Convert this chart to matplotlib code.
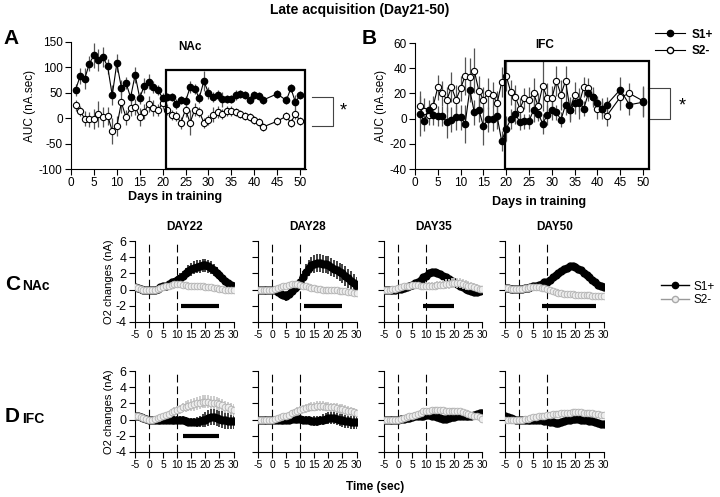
import matplotlib
matplotlib.use("Agg")
import matplotlib.pyplot as plt
from matplotlib.lines import Line2D
from matplotlib.patches import Rectangle
import numpy as np

plt.rcParams['font.family'] = ['Liberation Sans', 'DejaVu Sans']
plt.rcParams['axes.unicode_minus'] = False

# ---- panel A / B : AUC per training day ----
days_a = list(range(1, 43)) + [45, 47, 48, 49, 50]
nac_s1 = [56, 83, 78, 107, 124, 115, 120, 102, 45, 108,
          60, 70, 41, 85, 40, 64, 72, 62, 55, 40,
          41, 41, 28, 35, 33, 61, 58, 40, 73, 50,
          41, 45, 37, 37, 37, 45, 48, 45, 36, 45,
          43, 36, 48, 35, 59, 31, 46]
nac_s1_err = [12, 15, 20, 15, 25, 22, 20, 15, 20, 18,
              15, 12, 10, 15, 12, 15, 15, 12, 10, 10,
              8, 8, 10, 8, 10, 12, 10, 10, 20, 12,
              10, 10, 15, 8, 8, 10, 8, 8, 8, 8,
              8, 8, 8, 8, 8, 15, 8]
nac_s2 = [25, 14, -1, -2, -1, 8, 2, 5, -25, -16,
          31, 2, 20, 22, 3, 13, 28, 20, 16, 30,
          17, 7, 5, -9, 17, -9, 17, 13, -9, -4,
          7, 12, 9, 14, 14, 12, 9, 4, 2, -4,
          -8, -17, -6, 4, -9, 9, -6]
nac_s2_err = [10, 10, 15, 15, 20, 25, 20, 18, 25, 20,
              20, 15, 15, 15, 18, 15, 15, 15, 12, 12,
              10, 10, 10, 12, 15, 25, 12, 10, 10, 10,
              15, 12, 10, 10, 10, 8, 8, 8, 8, 8,
              8, 8, 8, 8, 8, 10, 8]

days_b = list(range(1, 43)) + [45, 47, 50]
ifc_s1 = [4, -2, 7, 3, 2, 2, -3, -1, 1, 1,
          -4, 23, 5, 7, -6, -0.5, 0, 2, -18, -8,
          -0.5, 4, -3, -2, -2, 7, 4, -4, 3, 7,
          5, -1, 11, 7, 12, 13, 8, 20, 17, 12,
          8, 11, 23, 11, 13]
ifc_s1_err = [18, 8, 8, 8, 8, 8, 12, 10, 10, 10,
              15, 10, 10, 10, 15, 10, 10, 10, 8, 10,
              8, 8, 6, 6, 6, 10, 6, 8, 8, 8,
              6, 6, 8, 8, 8, 8, 6, 6, 6, 6,
              6, 6, 10, 8, 12]
ifc_s2 = [10, 6, 3, 10, 25, 20, 15, 25, 15, 24,
          34, 33, 38, 22, 15, 20, 19, 12, 29, 34,
          21, 17, 8, 16, 15, 20, 10, 26, 16, 16,
          30, 19, 30, 7, 19, 12, 25, 24, 17, 8,
          8, 2, 17, 20, 14]
ifc_s2_err = [8, 10, 8, 8, 10, 10, 10, 12, 12, 10,
              15, 15, 18, 12, 10, 12, 10, 10, 12, 12,
              10, 10, 8, 8, 10, 12, 10, 20, 12, 10,
              12, 12, 12, 10, 10, 12, 8, 8, 8, 8,
              8, 8, 10, 8, 12]

# ---- panels C / D : O2 time courses (t = -5 .. 30 s) ----
t = list(range(-5, 31))
day_titles = ['DAY22', 'DAY28', 'DAY35', 'DAY50']

nac_tc_s1 = [
    [0.3, 0.2, 0.1, 0.0, -0.1, -0.1, -0.1, 0.0, 0.1, 0.3, 0.4, 0.5, 0.7, 0.9, 1.0,
     1.2, 1.4, 1.7, 2.0, 2.3, 2.5, 2.7, 2.8, 2.9, 3.0, 3.0, 2.9, 2.7, 2.4, 2.1,
     1.8, 1.4, 1.1, 0.8, 0.6, 0.5],
    [-0.1, -0.1, 0.0, 0.0, 0.0, 0.0, -0.1, -0.3, -0.5, -0.7, -0.8, -0.6, -0.2, 0.2, 0.5,
     0.9, 1.5, 2.2, 2.7, 3.0, 3.2, 3.3, 3.3, 3.2, 3.1, 3.0, 2.8, 2.6, 2.4, 2.2,
     2.0, 1.7, 1.4, 1.1, 0.8, 0.5],
    [0.0, 0.0, 0.0, 0.0, 0.0, 0.05, 0.1, 0.2, 0.3, 0.4, 0.6, 0.8, 1.0, 1.2, 1.5,
     1.7, 2.0, 2.2, 2.2, 2.1, 1.9, 1.7, 1.5, 1.3, 1.1, 0.9, 0.7, 0.5, 0.3, 0.1,
     -0.1, -0.2, -0.3, -0.3, -0.2, -0.1],
    [0.2, 0.2, 0.1, 0.1, 0.1, 0.1, 0.1, 0.2, 0.2, 0.3, 0.4, 0.5, 0.6, 0.7, 0.9,
     1.0, 1.2, 1.5, 1.8, 2.1, 2.3, 2.5, 2.7, 2.9, 2.9, 2.8, 2.6, 2.4, 2.1, 1.8,
     1.5, 1.2, 0.9, 0.6, 0.4, 0.3],
]
nac_tc_s1_err = [
    [0.1, 0.1, 0.1, 0.1, 0.1, 0.1, 0.1, 0.1, 0.15, 0.2, 0.2, 0.25, 0.3, 0.35, 0.4,
     0.5, 0.6, 0.6, 0.7, 0.7, 0.8, 0.8, 0.8, 0.8, 0.8, 0.8, 0.8, 0.8, 0.7, 0.7,
     0.6, 0.5, 0.4, 0.3, 0.2, 0.2],
    [0.1, 0.1, 0.1, 0.1, 0.1, 0.1, 0.2, 0.3, 0.4, 0.5, 0.6, 0.6, 0.5, 0.5, 0.6,
     0.7, 0.8, 0.9, 1.0, 1.0, 1.1, 1.1, 1.1, 1.1, 1.1, 1.1, 1.1, 1.1, 1.1, 1.1,
     1.2, 1.2, 1.2, 1.2, 1.1, 1.0],
    [0.1, 0.1, 0.1, 0.1, 0.1, 0.1, 0.1, 0.15, 0.2, 0.2, 0.25, 0.3, 0.3, 0.35, 0.4,
     0.4, 0.4, 0.4, 0.4, 0.4, 0.4, 0.4, 0.4, 0.4, 0.4, 0.4, 0.35, 0.35, 0.3, 0.3,
     0.3, 0.3, 0.3, 0.25, 0.2, 0.2],
    [0.1, 0.1, 0.1, 0.1, 0.1, 0.1, 0.1, 0.1, 0.1, 0.15, 0.15, 0.2, 0.2, 0.2, 0.2,
     0.25, 0.25, 0.3, 0.3, 0.3, 0.3, 0.3, 0.3, 0.3, 0.3, 0.3, 0.3, 0.3, 0.3, 0.3,
     0.25, 0.25, 0.2, 0.2, 0.2, 0.2],
]
nac_tc_s2 = [
    [0.3, 0.2, 0.1, 0.0, -0.1, -0.1, -0.1, 0.0, 0.1, 0.2, 0.3, 0.4, 0.5, 0.6, 0.7,
     0.7, 0.7, 0.6, 0.6, 0.5, 0.5, 0.5, 0.4, 0.4, 0.4, 0.3, 0.3, 0.3, 0.2, 0.2,
     0.1, 0.1, 0.0, 0.0, -0.1, -0.1],
    [0.0, 0.0, 0.0, 0.0, 0.0, 0.0, 0.1, 0.2, 0.3, 0.4, 0.5, 0.6, 0.7, 0.7, 0.7,
     0.6, 0.5, 0.4, 0.3, 0.2, 0.2, 0.1, 0.1, 0.0, 0.0, 0.0, -0.1, -0.1, -0.1, -0.2,
     -0.2, -0.2, -0.3, -0.3, -0.4, -0.4],
    [0.0, 0.0, 0.0, 0.1, 0.1, 0.2, 0.3, 0.4, 0.5, 0.5, 0.6, 0.6, 0.6, 0.5, 0.5,
     0.5, 0.5, 0.5, 0.5, 0.6, 0.6, 0.6, 0.7, 0.7, 0.8, 0.8, 0.8, 0.8, 0.7, 0.6,
     0.5, 0.4, 0.3, 0.2, 0.1, 0.1],
    [0.2, 0.2, 0.1, 0.1, 0.1, 0.1, 0.1, 0.2, 0.2, 0.3, 0.3, 0.3, 0.3, 0.2, 0.2,
     0.1, -0.1, -0.2, -0.3, -0.4, -0.4, -0.5, -0.5, -0.6, -0.6, -0.7, -0.7, -0.7, -0.7, -0.7,
     -0.7, -0.8, -0.8, -0.8, -0.8, -0.8],
]
nac_tc_s2_err = [
    [0.1, 0.1, 0.1, 0.1, 0.1, 0.1, 0.1, 0.1, 0.1, 0.1, 0.15, 0.2, 0.2, 0.25, 0.3,
     0.3, 0.3, 0.3, 0.3, 0.3, 0.3, 0.3, 0.3, 0.3, 0.3, 0.3, 0.3, 0.3, 0.3, 0.3,
     0.3, 0.3, 0.3, 0.3, 0.3, 0.3],
    [0.1, 0.1, 0.1, 0.1, 0.1, 0.1, 0.1, 0.15, 0.2, 0.2, 0.25, 0.3, 0.3, 0.3, 0.3,
     0.3, 0.3, 0.3, 0.3, 0.3, 0.3, 0.3, 0.3, 0.3, 0.3, 0.3, 0.3, 0.3, 0.3, 0.3,
     0.3, 0.3, 0.3, 0.3, 0.3, 0.3],
    [0.1, 0.1, 0.1, 0.1, 0.1, 0.1, 0.15, 0.2, 0.2, 0.25, 0.3, 0.3, 0.3, 0.3, 0.35,
     0.4, 0.4, 0.45, 0.5, 0.5, 0.5, 0.55, 0.6, 0.6, 0.6, 0.6, 0.6, 0.6, 0.6, 0.6,
     0.55, 0.5, 0.5, 0.45, 0.4, 0.4],
    [0.1, 0.1, 0.1, 0.1, 0.1, 0.1, 0.1, 0.1, 0.1, 0.1, 0.1, 0.1, 0.1, 0.15, 0.15,
     0.15, 0.15, 0.15, 0.15, 0.15, 0.15, 0.15, 0.15, 0.15, 0.15, 0.15, 0.15, 0.15, 0.15, 0.15,
     0.15, 0.15, 0.15, 0.15, 0.15, 0.15],
]
nac_sig = [(11.5, 25), (11.5, 25), (9, 20), (8, 27.5)]

ifc_tc_s1 = [
    [0.5, 0.4, 0.3, 0.2, 0.1, 0.0, 0.0, -0.1, -0.1, -0.1, -0.1, -0.1, -0.1, 0.0, 0.0,
     0.0, -0.1, -0.1, -0.2, -0.3, -0.3, -0.3, -0.3, -0.2, -0.1, 0.0, 0.2, 0.3, 0.3, 0.2,
     0.1, 0.0, -0.1, -0.2, -0.2, -0.2],
    [0.0, 0.0, 0.0, 0.0, 0.0, 0.0, 0.0, 0.0, 0.0, 0.0, 0.0, 0.0, 0.1, 0.1, 0.1,
     0.1, 0.0, -0.1, -0.1, -0.2, -0.2, -0.2, -0.1, 0.0, 0.1, 0.2, 0.2, 0.2, 0.1, 0.0,
     -0.1, -0.2, -0.2, -0.3, -0.3, -0.3],
    [0.0, 0.0, 0.0, 0.0, 0.0, 0.0, 0.1, 0.1, 0.2, 0.2, 0.3, 0.4, 0.4, 0.5, 0.5,
     0.6, 0.6, 0.5, 0.4, 0.3, 0.2, 0.1, 0.1, 0.2, 0.3, 0.3, 0.4, 0.4, 0.4, 0.4,
     0.5, 0.5, 0.6, 0.7, 0.8, 0.8],
    [0.4, 0.3, 0.2, 0.1, 0.0, 0.0, 0.0, 0.0, 0.0, 0.0, 0.0, -0.1, -0.1, -0.1, -0.2,
     -0.2, -0.3, -0.3, -0.4, -0.4, -0.3, -0.2, -0.1, 0.0, 0.1, 0.1, 0.1, 0.0, -0.1, -0.1,
     -0.2, -0.2, -0.3, -0.4, -0.5, -0.5],
]
ifc_tc_s1_err = [
    [0.1, 0.1, 0.1, 0.1, 0.1, 0.1, 0.2, 0.3, 0.4, 0.5, 0.5, 0.5, 0.5, 0.5, 0.5,
     0.5, 0.5, 0.5, 0.5, 0.5, 0.5, 0.5, 0.6, 0.7, 0.8, 0.9, 1.0, 1.0, 1.0, 1.0,
     1.0, 1.0, 1.0, 1.0, 1.0, 1.0],
    [0.1, 0.1, 0.1, 0.1, 0.1, 0.1, 0.2, 0.3, 0.4, 0.4, 0.5, 0.5, 0.5, 0.5, 0.5,
     0.5, 0.5, 0.5, 0.5, 0.5, 0.6, 0.6, 0.6, 0.7, 0.7, 0.7, 0.8, 0.8, 0.8, 0.8,
     0.8, 0.8, 0.8, 0.8, 0.8, 0.8],
    [0.1, 0.1, 0.1, 0.1, 0.1, 0.1, 0.1, 0.15, 0.15, 0.2, 0.2, 0.2, 0.2, 0.2, 0.2,
     0.2, 0.2, 0.2, 0.2, 0.2, 0.2, 0.2, 0.2, 0.2, 0.2, 0.2, 0.2, 0.2, 0.2, 0.2,
     0.2, 0.2, 0.2, 0.2, 0.2, 0.2],
    [0.1, 0.1, 0.1, 0.1, 0.1, 0.1, 0.1, 0.15, 0.15, 0.2, 0.2, 0.2, 0.25, 0.25, 0.3,
     0.3, 0.3, 0.3, 0.3, 0.3, 0.3, 0.3, 0.3, 0.3, 0.25, 0.25, 0.2, 0.2, 0.2, 0.2,
     0.2, 0.2, 0.2, 0.2, 0.2, 0.2],
]
ifc_tc_s2 = [
    [0.5, 0.4, 0.3, 0.2, 0.1, 0.0, 0.0, 0.1, 0.2, 0.3, 0.4, 0.6, 0.7, 0.9, 1.0,
     1.2, 1.3, 1.5, 1.6, 1.7, 1.8, 1.9, 2.0, 2.1, 2.2, 2.2, 2.2, 2.1, 2.1, 2.0,
     1.9, 1.8, 1.6, 1.5, 1.3, 1.2],
    [0.0, 0.0, 0.0, 0.0, 0.0, 0.0, 0.1, 0.2, 0.3, 0.4, 0.5, 0.6, 0.8, 0.9, 1.1,
     1.2, 1.3, 1.4, 1.5, 1.6, 1.6, 1.7, 1.7, 1.7, 1.6, 1.6, 1.5, 1.5, 1.4, 1.3,
     1.3, 1.2, 1.1, 1.0, 0.9, 0.8],
    [0.0, 0.0, 0.0, 0.0, 0.0, 0.0, 0.1, 0.2, 0.3, 0.4, 0.5, 0.6, 0.7, 0.8, 1.0,
     1.1, 1.1, 1.2, 1.2, 1.2, 1.2, 1.2, 1.1, 1.1, 1.1, 1.1, 1.0, 1.0, 0.9, 0.8,
     0.7, 0.6, 0.5, 0.4, 0.3, 0.1],
    [0.0, 0.0, 0.0, 0.0, 0.0, 0.0, 0.0, 0.1, 0.1, 0.2, 0.3, 0.3, 0.4, 0.5, 0.5,
     0.6, 0.6, 0.7, 0.7, 0.7, 0.8, 0.8, 0.8, 0.8, 0.9, 0.9, 0.9, 0.9, 0.8, 0.8,
     0.8, 0.8, 0.7, 0.7, 0.6, 0.6],
]
ifc_tc_s2_err = [
    [0.1, 0.1, 0.1, 0.1, 0.1, 0.1, 0.1, 0.15, 0.2, 0.25, 0.3, 0.35, 0.4, 0.45, 0.5,
     0.5, 0.55, 0.6, 0.65, 0.7, 0.75, 0.8, 0.8, 0.8, 0.8, 0.8, 0.8, 0.8, 0.8, 0.8,
     0.8, 0.8, 0.75, 0.7, 0.7, 0.7],
    [0.1, 0.1, 0.1, 0.1, 0.1, 0.1, 0.1, 0.15, 0.2, 0.2, 0.25, 0.3, 0.35, 0.4, 0.45,
     0.5, 0.5, 0.55, 0.6, 0.6, 0.6, 0.6, 0.6, 0.6, 0.6, 0.6, 0.6, 0.6, 0.6, 0.6,
     0.6, 0.6, 0.6, 0.55, 0.5, 0.5],
    [0.1, 0.1, 0.1, 0.1, 0.1, 0.1, 0.1, 0.1, 0.15, 0.15, 0.2, 0.2, 0.25, 0.25, 0.3,
     0.3, 0.3, 0.3, 0.3, 0.3, 0.3, 0.3, 0.3, 0.3, 0.3, 0.3, 0.3, 0.3, 0.3, 0.3,
     0.3, 0.3, 0.3, 0.3, 0.3, 0.3],
    [0.1, 0.1, 0.1, 0.1, 0.1, 0.1, 0.1, 0.1, 0.15, 0.15, 0.2, 0.2, 0.2, 0.25, 0.25,
     0.3, 0.3, 0.3, 0.3, 0.3, 0.3, 0.3, 0.3, 0.3, 0.3, 0.3, 0.3, 0.3, 0.3, 0.3,
     0.3, 0.3, 0.3, 0.3, 0.3, 0.3],
]
ifc_sig = [(12, 25), None, None, None]

W, H = 720, 497
fig = plt.figure(figsize=(W / 100, H / 100), dpi=100)


def px_axes(left, top, right, bottom):
    # pixel box -> figure axes
    return fig.add_axes([left / W, 1 - bottom / H, (right - left) / W, (bottom - top) / H])


def style_axes(ax, fs):
    for s in ['top', 'right']:
        ax.spines[s].set_visible(False)
    for s in ['left', 'bottom']:
        ax.spines[s].set_linewidth(0.8)
    ax.tick_params(direction='out', length=4, width=0.8, labelsize=fs, pad=2)


def auc_panel(ax, days, s1, s1e, s2, s2e, ylim, yticks, box):
    ax.errorbar(days, s1, yerr=s1e, fmt='none', ecolor='#555555', elinewidth=0.9, zorder=2)
    ax.errorbar(days, s2, yerr=s2e, fmt='none', ecolor='#555555', elinewidth=0.9, zorder=2)
    ax.plot(days, s1, '-o', color='black', lw=0.8, ms=4.5, zorder=4)
    ax.plot(days, s2, '-o', color='black', mfc='white', mec='black', mew=0.8, lw=0.8, ms=4.5, zorder=3)
    ax.add_patch(Rectangle((box[0], ylim[0]), box[1] - box[0], box[2] - ylim[0],
                           fill=False, lw=1.6, ec='black', zorder=5, clip_on=False))
    ax.set_xlim(0, 51.3)
    ax.set_ylim(*ylim)
    ax.set_xticks(range(0, 51, 5))
    ax.set_yticks(yticks)
    style_axes(ax, 8.5)
    ax.set_ylabel('AUC (nA.sec)', fontsize=8.5, labelpad=2)


axA = px_axes(71, 42, 306, 169)
auc_panel(axA, days_a, nac_s1, nac_s1_err, nac_s2, nac_s2_err, (-100, 150),
          range(-100, 151, 50), (20.8, 51.1, 94))
axA.plot([52.6, 57.2, 57.2, 52.6], [42, 42, -15, -15], color='#444444', lw=0.8, clip_on=False)
axA.text(59.5, 14, '*', fontsize=13, ha='center', va='center')

axB = px_axes(415, 43, 649, 169)
auc_panel(axB, days_b, ifc_s1, ifc_s1_err, ifc_s2, ifc_s2_err, (-40, 60),
          range(-40, 61, 20), (19.7, 51.3, 46))
axB.plot([51.0, 55.8, 55.8, 51.0], [24, 24, 0, 0], color='#444444', lw=0.8, clip_on=False)
axB.text(58.5, 10, '*', fontsize=13, ha='center', va='center')

fig.text(0.5, 1 - 10 / H, 'Late acquisition (Day21-50)', ha='center', va='center',
         fontsize=10, fontweight='bold')
fig.text(3 / W, 1 - 38 / H, 'A', fontsize=15, fontweight='bold', va='center')
fig.text(362 / W, 1 - 38 / H, 'B', fontsize=15, fontweight='bold', va='center')
fig.text(190 / W, 1 - 47 / H, 'NAc', fontsize=8.5, fontweight='bold', ha='center', va='center')
fig.text(545 / W, 1 - 45 / H, 'IFC', fontsize=8.5, fontweight='bold', ha='center', va='center')
fig.text(175 / W, 1 - 197 / H, 'Days in training', fontsize=9, fontweight='bold', ha='center', va='center')
fig.text(539 / W, 1 - 202 / H, 'Days in training', fontsize=9, fontweight='bold', ha='center', va='center')

top_handles = [
    Line2D([], [], color='black', marker='o', ms=4.5, lw=0.8),
    Line2D([], [], color='black', marker='o', mfc='white', ms=4.5, lw=0.8),
]
fig.legend(top_handles, ['S1+', 'S2-'], loc='upper left', bbox_to_anchor=(644 / W, 1 - 18 / H),
           frameon=False, handlelength=2.6, handletextpad=0.5, labelspacing=0.35,
           prop={'weight': 'bold', 'size': 8.5})

# ---- time-course rows ----
lefts = [135, 258, 384, 505]
rows = [(241, 322, nac_tc_s1, nac_tc_s1_err, nac_tc_s2, nac_tc_s2_err, nac_sig),
        (371, 452, ifc_tc_s1, ifc_tc_s1_err, ifc_tc_s2, ifc_tc_s2_err, ifc_sig)]

for top, bot, s1s, s1es, s2s, s2es, sigs in rows:
    for i, left in enumerate(lefts):
        ax = px_axes(left, top, left + 98.5, bot)
        ax.errorbar(t, s1s[i], yerr=s1es[i], fmt='none', ecolor='#333333', elinewidth=1.3, zorder=2)
        ax.plot(t, s1s[i], '-o', color='black', lw=0.8, ms=5, zorder=3)
        ax.errorbar(t, s2s[i], yerr=s2es[i], fmt='none', ecolor='#c8c8c8', elinewidth=1.3, zorder=4)
        ax.plot(t, s2s[i], '-o', color='#b5b5b5', mfc='#eeeeee', mec='#b0b0b0', mew=0.6,
                lw=0.8, ms=4.8, zorder=5)
        for xv in [0, 10]:
            ax.axvline(xv, color='black', lw=0.8, ls=(0, (7, 3.5)), zorder=1)
        if sigs[i] is not None:
            ax.plot(sigs[i], [-2, -2], color='black', lw=3, solid_capstyle='butt', zorder=6)
        ax.set_xlim(-5, 30)
        ax.set_ylim(-4, 6)
        ax.set_xticks(range(-5, 31, 5))
        ax.set_yticks(range(-4, 7, 2))
        style_axes(ax, 7.5)
        ax.tick_params(axis='x', labelsize=7.5, pad=1.5)
        if i == 0:
            ax.set_ylabel('O2 changes (nA)', fontsize=8, labelpad=1)
            ax.tick_params(axis='y', labelsize=9)
        else:
            ax.set_yticklabels([])
        if top == 241:
            ax.set_title(day_titles[i], fontsize=8.5, fontweight='bold', pad=8)

fig.text(5 / W, 1 - 284 / H, 'C', fontsize=15, fontweight='bold', va='center')
fig.text(22 / W, 1 - 286 / H, 'NAc', fontsize=10, fontweight='bold', va='center')
fig.text(5 / W, 1 - 417 / H, 'D', fontsize=15, fontweight='bold', va='center')
fig.text(22 / W, 1 - 419 / H, 'IFC', fontsize=10, fontweight='bold', va='center')
fig.text(375 / W, 1 - 487 / H, 'Time (sec)', fontsize=8.5, fontweight='bold', ha='center', va='center')

side_handles = [
    Line2D([], [], color='black', marker='o', ms=4.5, lw=1.0),
    Line2D([], [], color='#999999', marker='o', mfc='#eeeeee', mec='#aaaaaa', ms=4.5, lw=1.0),
]
fig.legend(side_handles, ['S1+', 'S2-'], loc='upper left', bbox_to_anchor=(650 / W, 1 - 270 / H),
           frameon=False, handlelength=2.4, handletextpad=0.4, labelspacing=0.15,
           prop={'size': 8.5})

fig.savefig('out.png', dpi=100)
